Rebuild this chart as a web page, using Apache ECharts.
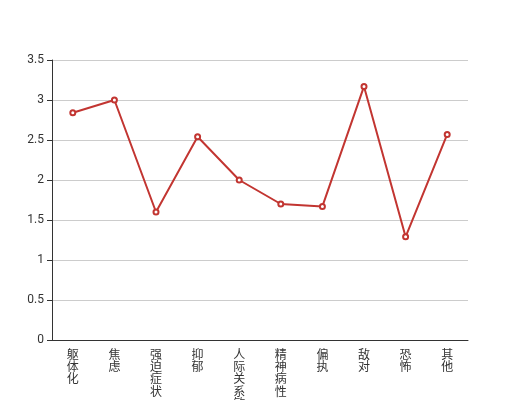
<!DOCTYPE html>
<html><head><meta charset="utf-8">
<script src="https://cdn.jsdelivr.net/npm/echarts@6/dist/echarts.min.js"></script>
<style>html,body{margin:0;padding:0;background:#fff}#c{width:520px;height:400px}</style>
</head><body><div id="c"></div>
<script>
var categories = ['躯体化','焦虑','强迫症状','抑郁','人际关系敏感','精神病性','偏执','敌对','恐怖','其他'];
var values = [2.84, 3.0, 1.6, 2.54, 2.0, 1.7, 1.67, 3.17, 1.29, 2.57];
var yTicks = [0, 0.5, 1, 1.5, 2, 2.5, 3, 3.5];
var chart = echarts.init(document.getElementById('c'));
chart.setOption({
  animation: false,
  textStyle: {fontFamily: 'Roboto, "Noto Sans CJK SC", sans-serif'},
  grid: {left: 52, right: 52, top: 60, bottom: 60, containLabel: false, outerBoundsMode: 'none'},
  xAxis: {
    type: 'category',
    data: categories,
    boundaryGap: true,
    axisLine: {lineStyle: {color: '#333'}},
    axisTick: {lineStyle: {color: '#333'}},
    axisLabel: {
      color: '#333', fontSize: 12, lineHeight: 12.3, interval: 0,
      fontFamily: '"Noto Sans CJK SC", sans-serif',
      formatter: function (v) { return v.split('').join('\n'); }
    }
  },
  yAxis: {
    type: 'value', min: yTicks[0], max: yTicks[yTicks.length - 1], interval: 0.5,
    axisLine: {show: true, lineStyle: {color: '#333'}},
    axisTick: {show: true, lineStyle: {color: '#333'}},
    axisLabel: {color: '#333', fontSize: 12},
    splitLine: {lineStyle: {color: '#ccc'}}
  },
  series: [{
    type: 'line',
    data: values,
    symbol: 'emptyCircle',
    symbolSize: 5,
    itemStyle: {color: '#c23531', borderWidth: 1},
    lineStyle: {color: '#c23531', width: 2}
  }]
});
</script></body></html>
